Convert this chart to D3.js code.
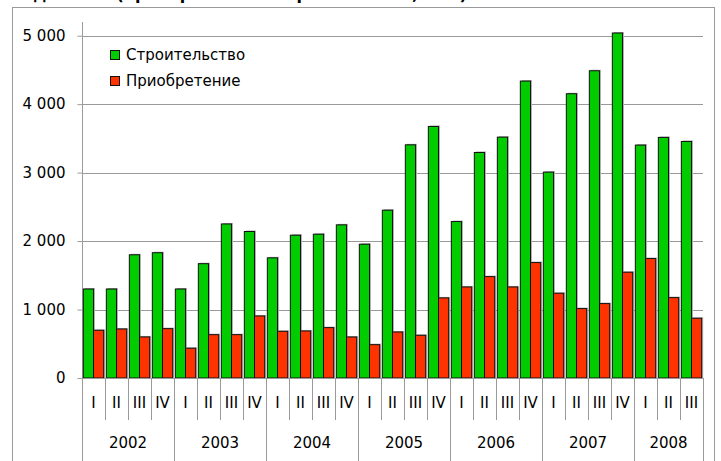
<!DOCTYPE html>
<html><head><meta charset="utf-8">
<script src="https://cdnjs.cloudflare.com/ajax/libs/d3/7.8.5/d3.min.js"></script>
<style>html,body{margin:0;padding:0;background:#fff;}svg{display:block;}</style>
</head><body>
<script>
const years = ["2002","2003","2004","2005","2006","2007","2008"];
const quarters = ["I","II","III","IV","I","II","III","IV","I","II","III","IV","I","II","III","IV","I","II","III","IV","I","II","III","IV","I","II","III"];
const quarterYear = ["2002","2002","2002","2002","2003","2003","2003","2003","2004","2004","2004","2004","2005","2005","2005","2005","2006","2006","2006","2006","2007","2007","2007","2007","2008","2008","2008"];
const construction = [1300,1300,1800,1830,1300,1670,2250,2140,1755,2086,2100,2237,1954,2451,3406,3674,2285,3294,3518,4337,3007,4152,4488,5039,3402,3514,3455];
const purchase = [697,716,600,721,435,633,633,906,682,687,736,599,487,672,624,1170,1330,1481,1330,1686,1238,1014,1087,1545,1745,1174,873];
const seriesNames = ["Строительство","Приобретение"];
const yTicks = [0,1000,2000,3000,4000,5000];
const titleText = "Ввод жилья (приобретение и строительство, млн)";

const W = 721, H = 461;
const font = "DejaVu Sans, sans-serif";
const colors = ["#00CC00","#FF3300"];
const axisCol = "#9a9a9a";

const svg = d3.select("body").append("svg").attr("width", W).attr("height", H);
svg.append("rect").attr("width", W).attr("height", H).attr("fill", "#fff");

// title (cut off at the top edge, as in the reference)
svg.append("text").attr("x", 0).attr("y", 0).attr("font-family", font)
  .attr("font-size", 16).attr("font-weight", "bold").attr("fill", "#000").text(titleText);

// chart border
svg.append("rect").attr("x", 12.5).attr("y", 7.5).attr("width", 702).attr("height", 480)
  .attr("fill", "#fff").attr("stroke", axisCol).attr("stroke-width", 1);

const x0 = 82, x1 = 703, yTop = 22, yBase = 378;
const idx = d3.range(quarters.length);
const x = d3.scaleBand().domain(idx).range([x0, x1]).paddingInner(0).paddingOuter(0);
const xi = d3.scaleBand().domain([0,1]).range([0, x.bandwidth()]).paddingInner(0).paddingOuter(0.13);
const y = d3.scaleLinear().domain([0, 5200]).range([yBase, yTop]);

// gridlines
svg.append("g").selectAll("line").data(yTicks.filter(d => d > 0)).join("line")
  .attr("x1", x0).attr("x2", x1).attr("y1", d => Math.round(y(d)) + 0.5).attr("y2", d => Math.round(y(d)) + 0.5)
  .attr("stroke", axisCol).attr("stroke-width", 1.2);

// y axis
const yAxis = d3.axisLeft(y).tickValues(yTicks).tickSize(5).tickPadding(12)
  .tickFormat(d => d3.format(",")(d).replace(/,/g, " "));
const gy = svg.append("g").attr("transform", `translate(${x0 + 0.5},0)`).call(yAxis);
gy.select(".domain").remove();
gy.selectAll(".tick line").attr("stroke", axisCol);
gy.selectAll(".tick text").attr("font-family", font).attr("font-size", 15).attr("fill", "#000");
svg.append("line").attr("x1", x0 + 0.5).attr("x2", x0 + 0.5).attr("y1", yTop).attr("y2", H)
  .attr("stroke", axisCol);

// bars
const series = [construction, purchase];
series.forEach((vals, s) => {
  const g = svg.append("g");
  g.selectAll("rect.shadow").data(idx).join("rect").attr("class", "shadow")
    .attr("x", i => x(i) + xi(s) + 1.5).attr("y", i => y(vals[i]) - 1)
    .attr("width", xi.bandwidth()).attr("height", i => yBase - y(vals[i]) + 1)
    .attr("fill", "#b0b0b0");
  g.selectAll("rect.bar").data(idx).join("rect").attr("class", "bar")
    .attr("x", i => x(i) + xi(s)).attr("y", i => y(vals[i]))
    .attr("width", xi.bandwidth()).attr("height", i => yBase - y(vals[i]))
    .attr("fill", colors[s]).attr("stroke", "#111").attr("stroke-width", 1);
});

// category axis
svg.append("line").attr("x1", x0).attr("x2", x1).attr("y1", yBase + 0.5).attr("y2", yBase + 0.5)
  .attr("stroke", axisCol);
const yearStarts = idx.filter(i => i === 0 || quarterYear[i] !== quarterYear[i - 1]);
const boundaries = idx.concat([quarters.length]);
svg.append("g").selectAll("line").data(boundaries).join("line")
  .attr("x1", i => i < quarters.length ? Math.round(x(i)) + 0.5 : x1 + 0.5)
  .attr("x2", i => i < quarters.length ? Math.round(x(i)) + 0.5 : x1 + 0.5)
  .attr("y1", yBase)
  .attr("y2", i => (i === quarters.length || yearStarts.includes(i)) ? H : 420)
  .attr("stroke", axisCol);
svg.append("g").selectAll("text").data(idx).join("text")
  .attr("x", i => x(i) + x.bandwidth() / 2).attr("y", 403).attr("dy", "0.35em")
  .attr("text-anchor", "middle").attr("font-family", font).attr("font-size", 15).attr("fill", "#000")
  .text(i => quarters[i]);
svg.append("g").selectAll("text").data(years).join("text")
  .attr("x", yr => {
    const ii = idx.filter(i => quarterYear[i] === yr);
    return (x(ii[0]) + x(ii[ii.length - 1]) + x.bandwidth()) / 2;
  })
  .attr("y", 443).attr("dy", "0.35em")
  .attr("text-anchor", "middle").attr("font-family", font).attr("font-size", 15).attr("fill", "#000")
  .text(d => d);

// legend
const lg = svg.append("g");
seriesNames.forEach((n, s) => {
  const ly = 55 + s * 26;
  lg.append("rect").attr("x", 110.5).attr("y", ly - 4.5).attr("width", 9).attr("height", 9)
    .attr("fill", colors[s]).attr("stroke", "#111");
  lg.append("text").attr("x", 126).attr("y", ly).attr("dy", "0.35em")
    .attr("font-family", font).attr("font-size", 15).attr("fill", "#000").text(n);
});
</script>
</body></html>
